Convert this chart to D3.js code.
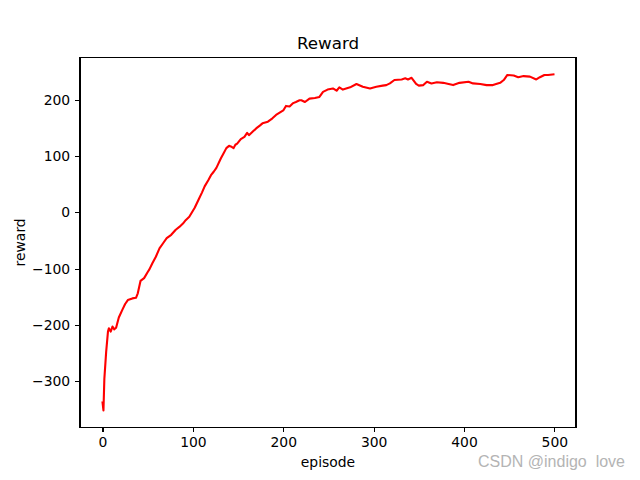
<!DOCTYPE html>
<html lang="en">
<head>
<meta charset="utf-8">
<title>Reward</title>
<script src="https://d3js.org/d3.v7.min.js"></script>
<style>
  body { margin: 0; background: #fff; }
  svg text { font-family: "DejaVu Sans", sans-serif; fill: #000; }
  .axis path, .axis line { stroke: #000; shape-rendering: crispEdges; }
</style>
</head>
<body>
<div id="chart"></div>
<script>

// episode numbers
var episodes = [0,1,2,4,6,7,9,11,13,15,18,22,25,28,33,37,39,42,46,50,52,55,59,63,67,71,76,81,85,89,92,96,99,
  102,107,110,113,117,120,123,126,131,134,137,140,142,145,147,149,153,157,160,162,166,170,174,177,183,188,192,196,
  200,203,207,211,214,218,220,224,229,235,240,244,249,255,259,262,266,274,281,288,296,
  303,310,314,318,323,331,335,338,342,347,350,355,359,364,370,377,383,388,395,
  405,410,418,425,432,440,444,448,455,460,466,473,480,484,489,493,499];

// reward at each of those episodes
var rewards = [-338,-352,-296,-248,-212,-206,-212,-203,-208,-205,-187,-173,-163,-156,-153,-152,-144,-122,-117,-106,-101,-91,-79,-64,-55,-46,-40,-31,-26,-20,-14,-8,0,
  8,25,35,46,57,66,72,79,96,105,114,118,117,114,120,122,130,134,141,137,143,149,154,158,161,167,173,177,
  181,189,188,194,196,199,199,196,202,203,205,214,218,220,216,222,218,222,228,223,220,
  223,225,226,229,235,236,238,236,239,228,225,226,232,229,231,230,228,226,230,
  232,229,228,226,226,230,235,244,243,240,242,241,236,240,244,244,245];

var xTicks = [0, 100, 200, 300, 400, 500];
var yTicks = [-300, -200, -100, 0, 100, 200];

var data = episodes.map(function(e, i) { return {episode: e, reward: rewards[i]}; });

// matplotlib default figure: 640x480, axes from 12.5% to 90% wide, 11% to 88% high
var W = 640, H = 480;
var margin = {top: 57.6, right: 64, bottom: 52.8, left: 80},
    width = W - margin.left - margin.right,
    height = H - margin.top - margin.bottom;

var svg = d3.select("#chart")
  .append("svg")
    .attr("width", W)
    .attr("height", H);

var g = svg.append("g")
    .attr("transform", "translate(" + margin.left + "," + margin.top + ")");

// 5% padding on each side like matplotlib autoscale
var xExt = d3.extent(episodes), xPad = (xExt[1] - xExt[0]) * 0.05;
var yExt = d3.extent(rewards), yPad = (yExt[1] - yExt[0]) * 0.05;

var x = d3.scaleLinear()
  .domain([xExt[0] - xPad, xExt[1] + xPad])
  .range([0, width]);

var y = d3.scaleLinear()
  .domain([yExt[0] - yPad, yExt[1] + yPad])
  .range([height, 0]);

// the line
g.append("path")
  .datum(data)
  .attr("fill", "none")
  .attr("stroke", "#ff0000")
  .attr("stroke-width", 2.1)
  .attr("stroke-linejoin", "round")
  .attr("stroke-linecap", "square")
  .attr("d", d3.line()
    .x(function(d) { return x(d.episode); })
    .y(function(d) { return y(d.reward); }));

// axes
var xAxis = g.append("g")
  .attr("class", "axis")
  .attr("transform", "translate(0," + height + ")")
  .call(d3.axisBottom(x).tickValues(xTicks).tickSizeOuter(0).tickSize(4.9).tickPadding(4.9));

var yAxis = g.append("g")
  .attr("class", "axis")
  .call(d3.axisLeft(y).tickValues(yTicks).tickSizeOuter(0).tickSize(4.9).tickPadding(4.9)
    .tickFormat(function(d) { return d < 0 ? "\u2212" + Math.abs(d) : d; }));

svg.selectAll(".axis text").style("font-size", "13.9px").attr("fill", "#000");
svg.selectAll(".axis line").attr("stroke-width", 1.1);
svg.selectAll(".axis .domain").remove();

// frame around the plot
g.append("rect")
  .attr("width", width)
  .attr("height", height)
  .attr("fill", "none")
  .attr("stroke", "#000")
  .attr("stroke-width", 1.1)
  .style("shape-rendering", "crispEdges");

// title and labels
svg.append("text")
  .attr("x", margin.left + width / 2)
  .attr("y", margin.top - 8.3)
  .attr("text-anchor", "middle")
  .style("font-size", "16.7px")
  .text("Reward");

svg.append("text")
  .attr("x", margin.left + width / 2)
  .attr("y", 467)
  .attr("text-anchor", "middle")
  .style("font-size", "13.9px")
  .text("episode");

svg.append("text")
  .attr("transform", "translate(25," + (margin.top + height / 2) + ") rotate(-90)")
  .attr("text-anchor", "middle")
  .style("font-size", "13.9px")
  .text("reward");

// watermark
svg.append("text")
  .attr("x", 625)
  .attr("y", 467)
  .attr("text-anchor", "end")
  .attr("xml:space", "preserve")
  .style("white-space", "pre")
  .style("font-family", "'Liberation Sans', Arial, sans-serif")
  .style("font-size", "16px")
  .style("fill", "#b4b4b4")
  .text("CSDN @indigo  love");

</script>
</body>
</html>
